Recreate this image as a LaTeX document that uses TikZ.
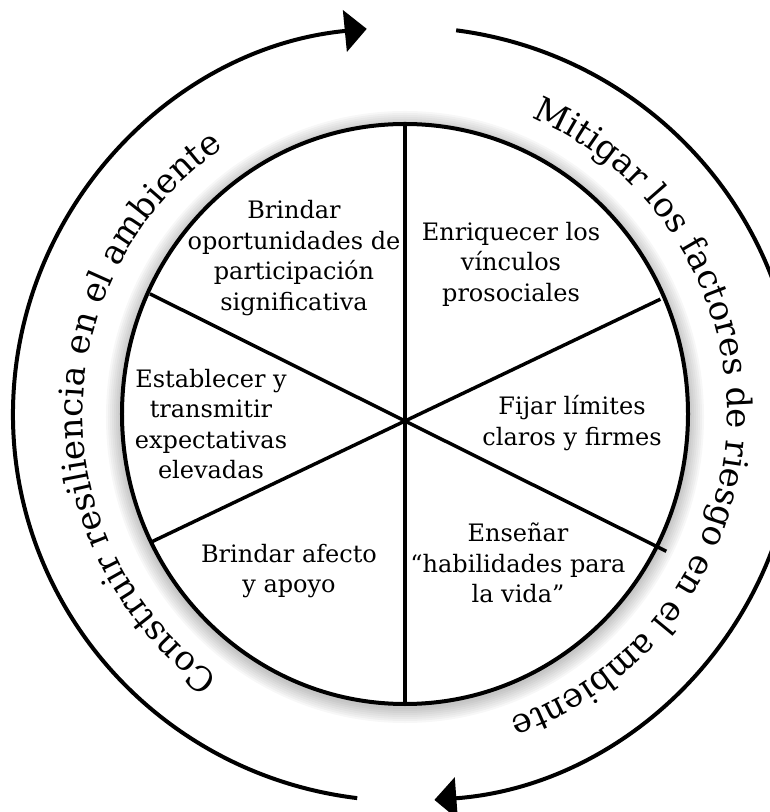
\documentclass[tikz,border=0pt]{standalone}
\usepackage{fontspec}
\setmainfont{DejaVu Serif}
\usetikzlibrary{arrows.meta,decorations.text}

\newcommand{\ringfont}{\fontsize{25.5}{30}\selectfont}

\begin{document}
\begin{tikzpicture}[x=0.75pt,y=0.75pt]

\def\rx{283}
\def\ry{290}
\def\rout{392}
\def\routy{387}
\def\rtxt{322}

\tikzset{
    sector/.style={
        align=center,
        font=\fontsize{18}{22.9}\selectfont,
        inner sep=0pt
    },
    spoke/.style={line width=2.6pt},
    ringarrow/.style={
        line width=3pt,
        -{Triangle[length=16.5pt,width=31pt]}
    }
}

\useasboundingbox (-405,-398) rectangle (364,414);

% Soft shadow round the wheel
\foreach \w in {4,8,...,32}{
    \draw[black, opacity=0.03, line width=\w*0.75pt]
        (0,-3) ellipse [x radius=\rx, y radius=\ry];
}

% Wheel
\draw[line width=3pt, fill=white] (0,0) ellipse [x radius=\rx, y radius=\ry];

\coordinate (hub) at (0,-7);
\coordinate (top) at (0,\ry);
\coordinate (bot) at (0,-\ry);
\coordinate (ul) at ([shift={(153.5:285)}]hub);
\coordinate (lr) at ([shift={(-26.5:292)}]hub);
\coordinate (ur) at ([shift={(25.5:283)}]hub);
\coordinate (ll) at ([shift={(205.5:281)}]hub);

\draw[spoke] (top) -- (bot);
\draw[spoke] (ul) -- (lr);
\draw[spoke] (ur) -- (ll);

% Sectors
\node[sector] (participa) at (-111,156) {Brindar\\oportunidades de\\participación\\significativa};
\node[sector] (vinculos) at (106,150) {Enriquecer los\\vínculos\\prosociales};
\node[sector] (expecta) at (-194,-10) {Establecer y\\transmitir\\expectativas\\elevadas};
\node[sector] (limites) at (167,-9) {Fijar límites\\claros y firmes};
\node[sector] (afecto) at (-116,-157) {Brindar afecto\\y apoyo};
\node[sector] (habilidad) at (113,-149) {Enseñar\\“habilidades para\\la vida”};

% Outer ring
\coordinate (lstart) at (263:{\rout} and {\routy});
\coordinate (rstart) at (82.5:{\rout} and {\routy});

\draw[ringarrow] (lstart) arc[start angle=263, end angle=95.6, x radius=\rout, y radius=\routy];
\draw[ringarrow] (rstart) arc[start angle=82.5, end angle=-85.7, x radius=\rout, y radius=\routy];

% Ring texts
\path[
    decorate,
    decoration={text along path, text align=center,
        text={|\ringfont|Construir resiliencia en el ambiente}}
]
(250:\rtxt) arc[start angle=250, end angle=109, radius=\rtxt];

\path[
    decorate,
    decoration={text along path, text align=center,
        text={|\ringfont|Mitigar los factores de riesgo en el ambiente}}
]
(72:\rtxt) arc[start angle=72, end angle=-76, radius=\rtxt];

\end{tikzpicture}
\end{document}
